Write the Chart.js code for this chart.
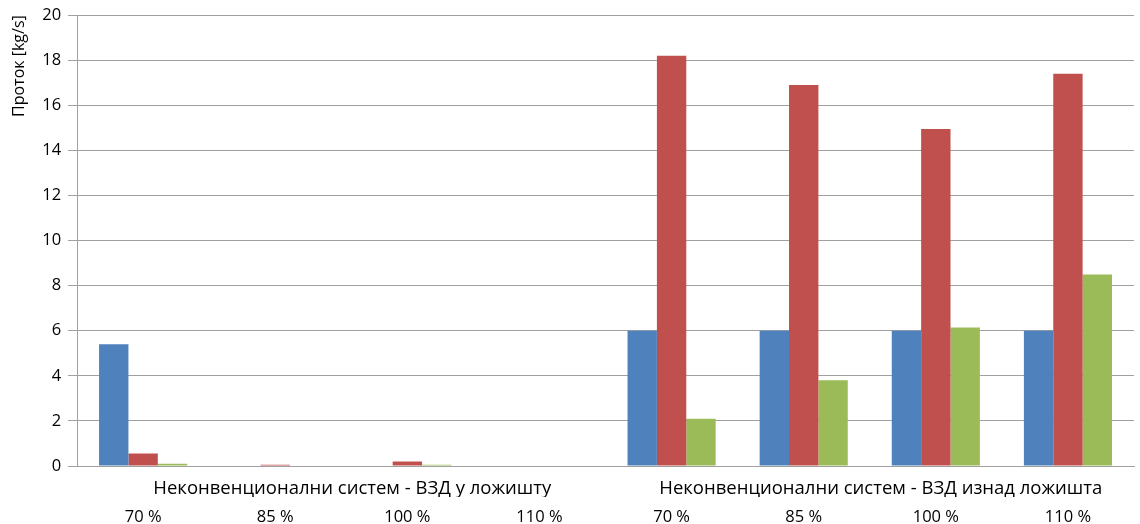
<!DOCTYPE html>
<html>
<head>
<meta charset="utf-8">
<script src="https://cdn.jsdelivr.net/npm/chart.js@4"></script>
<style>
  body { margin: 0; background: #fff; }
  #wrap { width: 1140px; height: 524px; }
</style>
</head>
<body>
<div id="wrap"><canvas id="flowChart"></canvas></div>
<script>
const percentLabels = ['70 %', '85 %', '100 %', '110 %', '70 %', '85 %', '100 %', '110 %'];
const groupLabels = ['Неконвенционални систем - ВЗД у ложишту', 'Неконвенционални систем - ВЗД изнад ложишта'];

const blueValues = [5.4, 0, 0, 0, 6.0, 6.0, 6.0, 6.0];
const redValues = [0.55, 0.05, 0.2, 0.02, 18.2, 16.9, 14.95, 17.4];
const greenValues = [0.1, 0.02, 0.05, 0.02, 2.1, 3.8, 6.15, 8.5];

const yTicks = [0, 2, 4, 6, 8, 10, 12, 14, 16, 18, 20];

const gridColor = '#a0a0a0';
const tickFont = { family: 'Open Sans', size: 16.5, lineHeight: 1 };
const groupFont = { family: 'Open Sans', size: 18.5, lineHeight: 1 };

Chart.defaults.color = '#000';

new Chart(document.getElementById('flowChart').getContext('2d'), {
  type: 'bar',
  data: {
    labels: percentLabels,
    datasets: [
      { label: 'A', data: blueValues, backgroundColor: '#4f81bd' },
      { label: 'B', data: redValues, backgroundColor: '#c0504d' },
      { label: 'C', data: greenValues, backgroundColor: '#9bbb59' }
    ]
  },
  options: {
    responsive: true,
    maintainAspectRatio: false,
    animation: false,
    layout: { padding: { top: 8, right: 6, left: 10, bottom: 0 } },
    plugins: { legend: { display: false }, tooltip: { enabled: false } },
    datasets: { bar: { categoryPercentage: 0.667, barPercentage: 1 } },
    scales: {
      x: {
        weight: 1,
        grid: { display: false, drawTicks: false },
        border: { display: false },
        ticks: { font: tickFont, maxRotation: 0, autoSkip: false, padding: 12 },
        afterFit: s => { s.height = 27; }
      },
      groups: {
        type: 'category',
        position: 'bottom',
        weight: 0,
        labels: groupLabels,
        offset: true,
        grid: { display: false, drawTicks: false },
        border: { display: true, color: gridColor, width: 1 },
        ticks: { font: groupFont, maxRotation: 0, autoSkip: false, padding: 13, labelOffset: 11 },
        afterFit: s => { s.height = 31; }
      },
      y: {
        min: 0,
        max: 20,
        afterBuildTicks: axis => { axis.ticks = yTicks.map(v => ({ value: v })); },
        grid: { color: gridColor, tickLength: 9 },
        border: { color: gridColor },
        ticks: { font: tickFont, padding: 7 },
        title: {
          display: true,
          text: 'Проток [kg/s]',
          align: 'end',
          font: { family: 'Open Sans', size: 16 },
          padding: { top: 0, bottom: 6 }
        }
      }
    }
  }
});
</script>
</body>
</html>
